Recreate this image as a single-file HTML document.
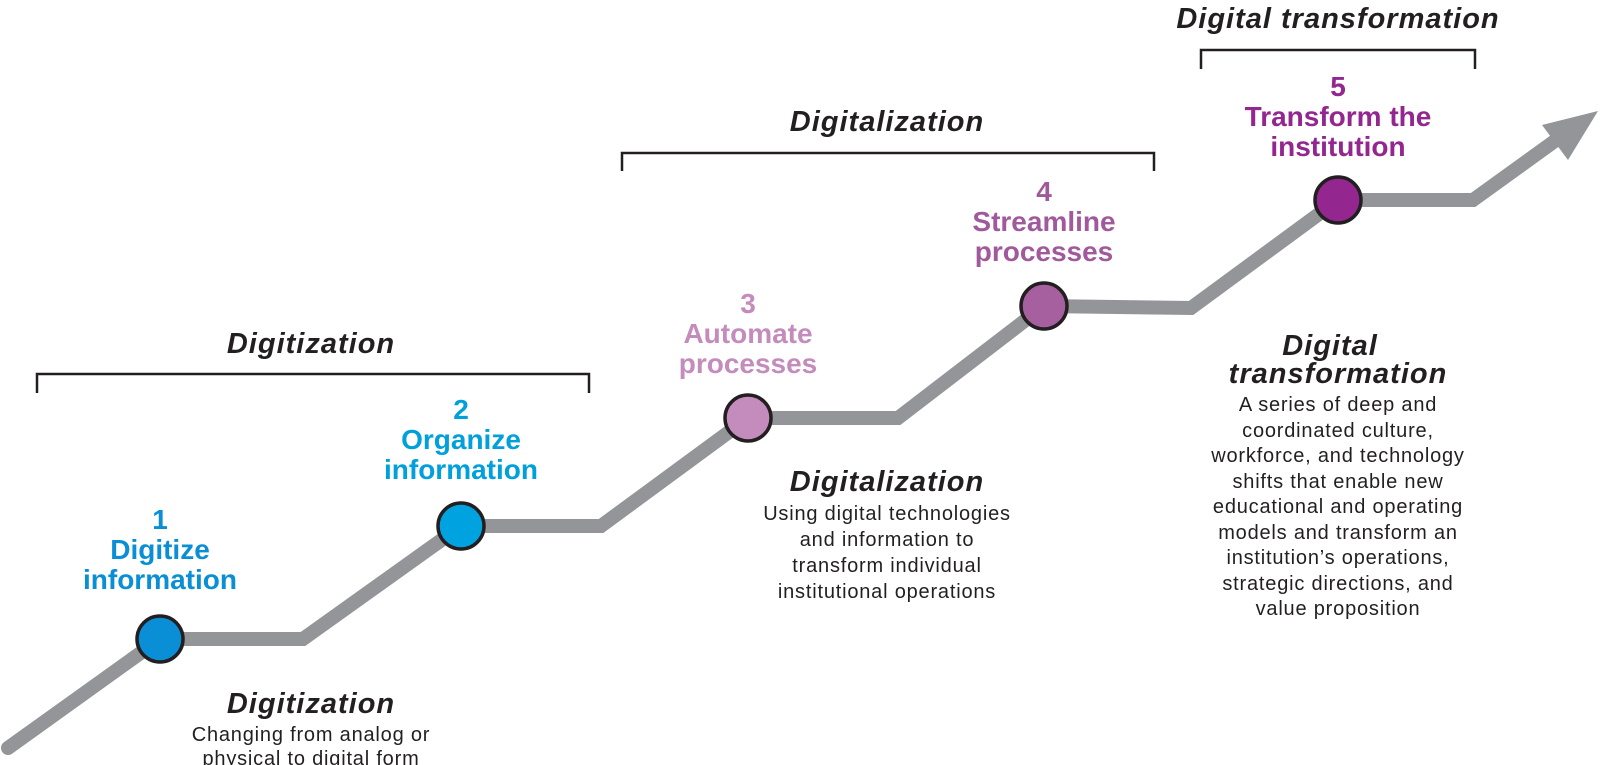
<!DOCTYPE html>
<html><head><meta charset="utf-8"><style>
html,body{margin:0;padding:0;background:#fff;}
svg{display:block;}
text{font-family:"Liberation Sans",sans-serif;text-anchor:middle;}
.h{font-weight:bold;font-style:italic;font-size:29px;letter-spacing:1px;fill:#231f20;}
.s{font-weight:bold;font-size:28px;}
.b{font-size:20px;letter-spacing:0.8px;fill:#231f20;}
</style></head><body>
<svg width="1600" height="765" viewBox="0 0 1600 765">
<g fill="none" stroke="#231f20" stroke-width="2.5">
<path d="M37 393 V374 H589 V393"/>
<path d="M622 171 V153 H1154 V171"/>
<path d="M1201 69 V50 H1475 V69"/>
</g>
<text class="h" x="311" y="353">Digitization</text>
<text class="h" x="887" y="131">Digitalization</text>
<text class="h" x="1338" y="28">Digital transformation</text>
<polyline points="8,748 160,639 303,639 461,526 601,526 748,418 898,418 1044,306 1191,308 1338,200 1473,200 1570,130" fill="none" stroke="#939598" stroke-width="14" stroke-linecap="round" stroke-linejoin="miter"/>
<polygon points="1598,111 1542,125 1568,160" fill="#939598"/>
<g stroke="#231f20" stroke-width="3.5">
<circle cx="160" cy="639" r="23" fill="#0a8fd6"/>
<circle cx="461" cy="526" r="23" fill="#00a3e0"/>
<circle cx="748" cy="418" r="23" fill="#c48bbd"/>
<circle cx="1044" cy="306" r="23" fill="#a6609f"/>
<circle cx="1338" cy="200" r="23" fill="#93278f"/>
</g>
<text class="s" x="160" y="529" fill="#0a8fd6">1</text><text class="s" x="160" y="559" fill="#0a8fd6">Digitize</text><text class="s" x="160" y="589" fill="#0a8fd6">information</text>
<text class="s" x="461" y="419" fill="#00a0dc">2</text><text class="s" x="461" y="449" fill="#00a0dc">Organize</text><text class="s" x="461" y="479" fill="#00a0dc">information</text>
<text class="s" x="748" y="313" fill="#c48bbd">3</text><text class="s" x="748" y="343" fill="#c48bbd">Automate</text><text class="s" x="748" y="373" fill="#c48bbd">processes</text>
<text class="s" x="1044" y="201" fill="#a05a9c">4</text><text class="s" x="1044" y="231" fill="#a05a9c">Streamline</text><text class="s" x="1044" y="261" fill="#a05a9c">processes</text>
<text class="s" x="1338" y="96" fill="#93278f">5</text><text class="s" x="1338" y="126" fill="#93278f">Transform the</text><text class="s" x="1338" y="156" fill="#93278f">institution</text>
<text class="h" x="311" y="713">Digitization</text>
<text class="b" x="311" y="741">Changing from analog or</text>
<text class="b" x="311" y="765">physical to digital form</text>
<text class="h" x="887" y="491">Digitalization</text>
<text class="b" x="887" y="520">Using digital technologies</text>
<text class="b" x="887" y="546">and information to</text>
<text class="b" x="887" y="572">transform individual</text>
<text class="b" x="887" y="598">institutional operations</text>
<text class="h" x="1330" y="355">Digital</text>
<text class="h" x="1338" y="383">transformation</text>
<text class="b" x="1338" y="411">A series of deep and</text>
<text class="b" x="1338" y="437">coordinated culture,</text>
<text class="b" x="1338" y="462">workforce, and technology</text>
<text class="b" x="1338" y="488">shifts that enable new</text>
<text class="b" x="1338" y="513">educational and operating</text>
<text class="b" x="1338" y="539">models and transform an</text>
<text class="b" x="1338" y="564">institution’s operations,</text>
<text class="b" x="1338" y="590">strategic directions, and</text>
<text class="b" x="1338" y="615">value proposition</text>
</svg>
</body></html>
